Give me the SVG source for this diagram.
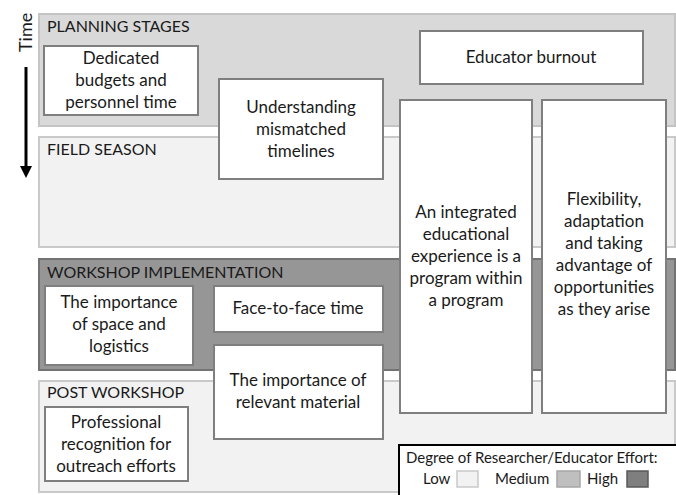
<svg xmlns="http://www.w3.org/2000/svg" width="676" height="495" viewBox="0 0 676 495">
<defs>
<style>
text{font-family:Lato,"Liberation Sans",sans-serif;fill:#1a1a1a}
.hdr{font-size:16px}
.t{font-size:17px;text-anchor:middle}
.lg{font-size:15px}
.box{fill:#fff;stroke:#7f7f7f;stroke-width:2}
.low{fill:#f2f2f2;stroke:#c9c9c9;stroke-width:2}
.med{fill:#d9d9d9;stroke:#c4c4c4;stroke-width:2}
.high{fill:#969696;stroke:#737373;stroke-width:2}
</style>
<marker id="ah" viewBox="0 0 10 10" refX="5" refY="5" markerWidth="4" markerHeight="4" orient="auto"><path d="M0,0L10,5L0,10z" fill="#000"/></marker>
</defs>
<rect width="676" height="495" fill="#fff"/>
<g id="bands">
<g id="planning"><rect class="med" x="39" y="14" width="636" height="112"/><text class="hdr" x="47" y="32">PLANNING STAGES</text></g>
<g id="field"><rect class="low" x="39" y="137" width="636" height="110"/><text class="hdr" x="47" y="155">FIELD SEASON</text></g>
<g id="workshop"><rect class="high" x="39" y="259" width="636" height="111"/><text class="hdr" x="47" y="278">WORKSHOP IMPLEMENTATION</text></g>
<g id="post"><rect class="low" x="39" y="381" width="636" height="111"/><text class="hdr" x="47" y="398">POST WORKSHOP</text></g>
</g>
<g id="time">
<text style="font-size:18px" transform="translate(32,52) rotate(-90)">Time</text>
</g>
<g id="connectors">
<line x1="26" y1="67" x2="26" y2="172" stroke="#000" stroke-width="3" marker-end="url(#ah)"/>
</g>
<g id="n-budgets"><rect class="box" x="44" y="46" width="154" height="69"/><text class="t" x="121" y="64">Dedicated</text><text class="t" x="121" y="86">budgets and</text><text class="t" x="121" y="108">personnel time</text></g>
<g id="n-mismatched"><rect class="box" x="219" y="79" width="164" height="100"/><text class="t" x="301" y="113">Understanding</text><text class="t" x="301" y="135">mismatched</text><text class="t" x="301" y="157">timelines</text></g>
<g id="n-burnout"><rect class="box" x="420" y="31" width="223" height="53"/><text class="t" x="531" y="63">Educator burnout</text></g>
<g id="n-integrated"><rect class="box" x="400" y="100" width="132" height="313"/><text class="t" x="466" y="218">An integrated</text><text class="t" x="466" y="240">educational</text><text class="t" x="466" y="262">experience is a</text><text class="t" x="466" y="284">program within</text><text class="t" x="466" y="306">a program</text></g>
<g id="n-flexibility"><rect class="box" x="542" y="100" width="124" height="313"/><text class="t" x="604" y="205">Flexibility,</text><text class="t" x="604" y="227">adaptation</text><text class="t" x="604" y="249">and taking</text><text class="t" x="604" y="271">advantage of</text><text class="t" x="604" y="293">opportunities</text><text class="t" x="604" y="315">as they arise</text></g>
<g id="n-space"><rect class="box" x="45" y="286" width="148" height="79"/><text class="t" x="119" y="308">The importance</text><text class="t" x="119" y="330">of space and</text><text class="t" x="119" y="352">logistics</text></g>
<g id="n-face"><rect class="box" x="214" y="286" width="169" height="46"/><text class="t" x="298" y="314">Face-to-face time</text></g>
<g id="n-material"><rect class="box" x="214" y="345" width="169" height="94"/><text class="t" x="298" y="386">The importance of</text><text class="t" x="298" y="408">relevant material</text></g>
<g id="n-recognition"><rect class="box" x="45" y="407" width="143" height="74"/><text class="t" x="116" y="428">Professional</text><text class="t" x="116" y="450">recognition for</text><text class="t" x="116" y="472">outreach efforts</text></g>
<g id="legend">
<rect x="399" y="445" width="280" height="52" fill="#fff" stroke="#000" stroke-width="2"/>
<text class="lg" x="406" y="463">Degree of Researcher/Educator Effort:</text>
<text class="lg" x="423" y="484">Low</text>
<rect x="457" y="471" width="21" height="16" fill="#f2f2f2" stroke="#c9c9c9" stroke-width="1.5"/>
<text class="lg" x="495" y="484">Medium</text>
<rect x="557" y="471" width="23" height="16" fill="#bfbfbf" stroke="#a6a6a6" stroke-width="1.5"/>
<text class="lg" x="587" y="484">High</text>
<rect x="627" y="471" width="21" height="16" fill="#7f7f7f" stroke="#595959" stroke-width="1.5"/>
</g>
</svg>
